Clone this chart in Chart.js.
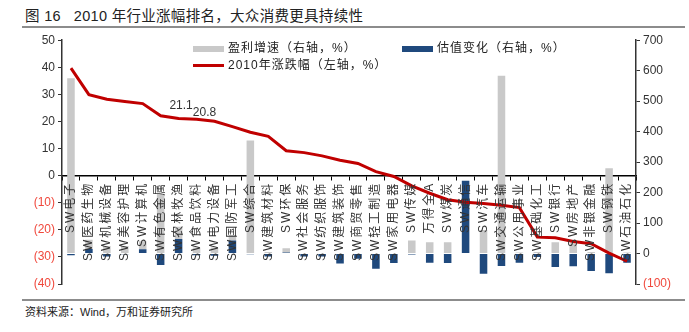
<!DOCTYPE html>
<html>
<head>
<meta charset="utf-8">
<script src="https://cdn.jsdelivr.net/npm/chart.js@4.4.0/dist/chart.umd.min.js"></script>
<style>
  body { margin: 0; background: #fff; width: 689px; height: 332px; position: relative; overflow: hidden;
         font-family: "Liberation Sans", "Noto Sans CJK SC", sans-serif; color: #222; }
  #title { position: absolute; left: 25px; top: 4px; font-size: 14.5px; letter-spacing: 0.3px; }
  .rule { position: absolute; left: 22px; width: 663px; height: 2px; background: #8c8c8c; }
  #wrap { position: absolute; left: 0; top: 30px; width: 689px; height: 268px; }
  .leg { position: absolute; font-size: 12px; line-height: 14px; white-space: nowrap; letter-spacing: 1px; }
  .leg i { display: inline-block; width: 31px; vertical-align: middle; margin-right: 4px; }
  #source { position: absolute; left: 25px; top: 303px; font-size: 11px; }
</style>
</head>
<body>
<div id="title">图 16&nbsp;&nbsp; 2010 年行业涨幅排名，大众消费更具持续性</div>
<div class="rule" style="top:26px"></div>
<div id="wrap"><canvas id="chart"></canvas></div>
<div id="legend"></div>
<div class="rule" style="top:299px"></div>
<div id="source">资料来源：Wind，万和证券研究所</div>
<script>
const categories = ['SW电子', 'SW医药生物', 'SW机械设备', 'SW美容护理', 'SW计算机', 'SW有色金属', 'SW农林牧渔',
  'SW食品饮料', 'SW电力设备', 'SW国防军工', 'SW综合', 'SW建筑材料', 'SW环保', 'SW社会服务', 'SW纺织服饰',
  'SW建筑装饰', 'SW商贸零售', 'SW轻工制造', 'SW家用电器', 'SW传媒', '万得全A', 'SW煤炭', 'SW通信', 'SW汽车',
  'SW交通运输', 'SW公用事业', 'SW基础化工', 'SW银行', 'SW房地产', 'SW非银金融', 'SW钢铁', 'SW石油石化'];

// 2010年涨跌幅 (left axis, %)
const priceChange = [39.7, 29.9, 28.2, 27.4, 26.6, 22.1, 21.1, 20.8, 20.1, 18.1, 16.0, 14.5, 9.2, 8.5, 7.3, 5.7,
  4.5, 1.5, -0.3, -3.8, -6.5, -8.9, -9.8, -10.3, -10.9, -11.8, -22.7, -22.9, -24.3, -25.1, -28.6, -31.6];

// 盈利增速 (right axis, %)
const profitGrowth = [575, 30, 25, 25, 26, 196, 40, 20, 20, 18, 371, 5, 14, 2, 2, 2,
  2, 2, 2, 43, 37, 37, 0, 77, 583, 3, 5, 37, 34, 5, 280, 3];

// 估值变化 (right axis, %)
const valuationChange = [-6, 15, -10, -2, 14, -38, 48, -6, -7, 43, -2, -10, 3, -10, -10, -33,
  -17, -50, -31, -3, -30, -31, 239, -66, -41, -30, -11, -44, -42, -57, -65, -30];

const leftTicks = { min: -40, max: 50, step: 10 };
const rightTicks = { min: -100, max: 700, step: 100 };

const labelIdx = [6, 7];
const labelShift = [[2.5, -13], [8, -7]];

const negLabel = v => v < 0 ? '(' + (-v) + ')' : String(v);
const negColor = ctx => ctx.tick.value < 0 ? '#f0483c' : '#333';

const pointLabels = {
  id: 'pointLabels',
  afterDatasetsDraw(chart) {
    const meta = chart.getDatasetMeta(0);
    const ctx = chart.ctx;
    ctx.save();
    ctx.font = '12px "Liberation Sans"';
    ctx.fillStyle = '#333';
    ctx.textAlign = 'center';
    ctx.textBaseline = 'middle';
    labelIdx.forEach((i, k) => {
      const p = meta.data[i];
      ctx.fillText(priceChange[i].toFixed(1), p.x + labelShift[k][0], p.y + labelShift[k][1]);
    });
    ctx.restore();
    // category labels (x ticks, drawn after the datasets) are spaced out like the original
    ctx.letterSpacing = '2px';
  },
  afterDraw(chart) {
    chart.ctx.letterSpacing = '0px';
  }
};

const chart = new Chart(document.getElementById('chart'), {
  data: {
    labels: categories,
    datasets: [
      {
        type: 'line',
        label: '2010年涨跌幅（左轴，%）',
        data: priceChange,
        yAxisID: 'y',
        borderColor: '#c00000',
        borderWidth: 3,
        pointRadius: 0,
        tension: 0,
        order: 0
      },
      {
        type: 'bar',
        label: '盈利增速（右轴，%）',
        data: profitGrowth,
        yAxisID: 'y1',
        stack: 'a',
        backgroundColor: '#c9c9c9',
        barPercentage: 0.42,
        categoryPercentage: 1,
        order: 2
      },
      {
        type: 'bar',
        label: '估值变化（右轴，%）',
        data: valuationChange,
        yAxisID: 'y1',
        stack: 'a',
        backgroundColor: '#1f497d',
        barPercentage: 0.42,
        categoryPercentage: 1,
        order: 1
      }
    ]
  },
  options: {
    responsive: true,
    maintainAspectRatio: false,
    animation: false,
    layout: { padding: { top: 7, bottom: 14, left: 0, right: 0 } },
    plugins: { legend: { display: false }, tooltip: { enabled: false } },
    scales: {
      x: {
        position: { y: 0 },
        offset: true,
        grid: { drawOnChartArea: false, tickLength: 4, color: '#000', offset: true },
        border: { color: '#000', width: 1.5 },
        ticks: {
          z: 1,
          autoSkip: false, minRotation: 90, maxRotation: 90, padding: 2,
          color: '#333', font: { size: 12, family: '"Liberation Sans", "Noto Sans CJK SC"' }
        }
      },
      y: {
        position: 'left',
        min: leftTicks.min, max: leftTicks.max,
        afterFit: s => { s.width = 62; },
        grid: { drawOnChartArea: false, tickLength: 4, color: '#333' },
        border: { color: '#333', width: 1.5 },
        ticks: { stepSize: leftTicks.step, callback: negLabel, color: negColor, padding: 3,
                 font: { size: 12, family: '"Liberation Sans"' } }
      },
      y1: {
        position: 'right',
        min: rightTicks.min, max: rightTicks.max,
        afterFit: s => { s.width = 53; },
        grid: { drawOnChartArea: false, tickLength: 4, color: '#333' },
        border: { color: '#333', width: 1.5 },
        ticks: { stepSize: rightTicks.step, callback: negLabel, color: negColor, padding: 3,
                 font: { size: 12, family: '"Liberation Sans"' } }
      }
    }
  },
  plugins: [pointLabels]
});

// legend laid out like the original: two items on the first row, the line on the second
const legendPos = [[193, 41], [402, 41], [193, 58]];
const legendOrder = [1, 2, 0];
const legend = document.getElementById('legend');
legendOrder.forEach((d, k) => {
  const ds = chart.data.datasets[d];
  const el = document.createElement('div');
  el.className = 'leg';
  el.style.left = legendPos[k][0] + 'px';
  el.style.top = legendPos[k][1] + 'px';
  const sw = document.createElement('i');
  if (ds.type === 'line') {
    sw.style.height = '3px';
    sw.style.background = ds.borderColor;
  } else {
    sw.style.height = '6px';
    sw.style.background = ds.backgroundColor;
  }
  el.appendChild(sw);
  el.appendChild(document.createTextNode(ds.label));
  legend.appendChild(el);
});
</script>
</body>
</html>
